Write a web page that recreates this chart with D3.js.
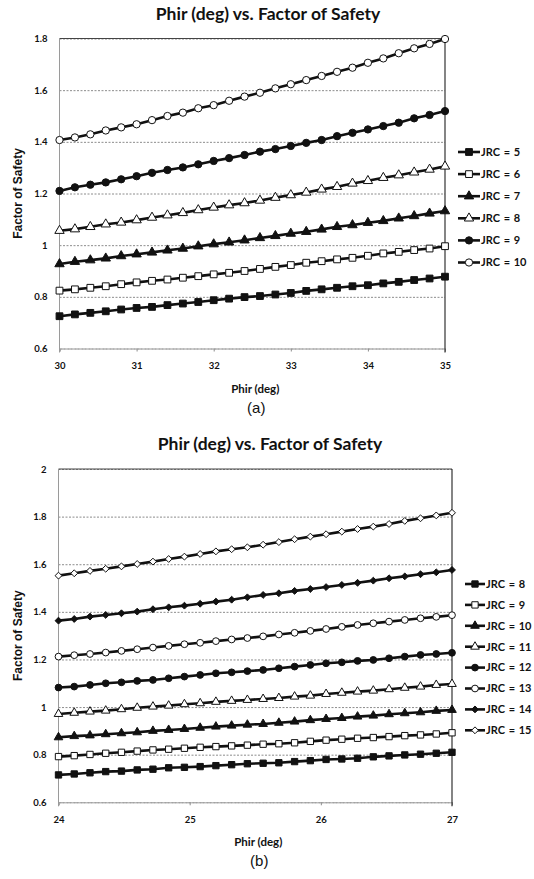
<!DOCTYPE html>
<html>
<head>
<meta charset="utf-8">
<script src="https://cdn.jsdelivr.net/npm/d3@7"></script>
<style>
  body { margin: 0; background: #fff; }
  text { fill: #111; }
  .tick text { font-family: Lato, "Liberation Sans", sans-serif; font-weight: 700; font-size: 9.5px; fill: #111; }
</style>
</head>
<body>
<div id="chart"></div>
<script>
//data
const phirA = [30, 30.2, 30.4, 30.6, 30.8, 31, 31.2, 31.4, 31.6, 31.8, 32, 32.2, 32.4, 32.6, 32.8, 33, 33.2, 33.4, 33.6, 33.8, 34, 34.2, 34.4, 34.6, 34.8, 35];
const phirB = [24, 24.12, 24.24, 24.36, 24.48, 24.6, 24.72, 24.84, 24.96, 25.08, 25.2, 25.32, 25.44, 25.56, 25.68, 25.8, 25.92, 26.04, 26.16, 26.28, 26.4, 26.52, 26.64, 26.76, 26.88, 27];

const xTicksA = [30, 31, 32, 33, 34, 35];
const yTicksA = [0.6, 0.8, 1, 1.2, 1.4, 1.6, 1.8];
const xTicksB = [24, 25, 26, 27];
const yTicksB = [0.6, 0.8, 1, 1.2, 1.4, 1.6, 1.8, 2];

const jrcA = ['JRC = 5', 'JRC = 6', 'JRC = 7', 'JRC = 8', 'JRC = 9', 'JRC = 10'];
const jrcB = ['JRC = 8', 'JRC = 9', 'JRC = 10', 'JRC = 11', 'JRC = 12', 'JRC = 13', 'JRC = 14', 'JRC = 15'];

// panel (a)
const fosA5  = [0.725, 0.732, 0.738, 0.744, 0.751, 0.757, 0.761, 0.768, 0.774, 0.780, 0.787, 0.793, 0.799, 0.803, 0.809, 0.815, 0.823, 0.829, 0.835, 0.841, 0.845, 0.852, 0.858, 0.865, 0.871, 0.878];
const fosA6  = [0.824, 0.829, 0.835, 0.841, 0.849, 0.856, 0.862, 0.867, 0.874, 0.880, 0.887, 0.893, 0.900, 0.908, 0.916, 0.923, 0.932, 0.938, 0.945, 0.951, 0.959, 0.968, 0.974, 0.981, 0.987, 0.996];
const fosA7  = [0.927, 0.936, 0.942, 0.949, 0.958, 0.965, 0.972, 0.980, 0.987, 0.996, 1.004, 1.011, 1.019, 1.028, 1.036, 1.045, 1.052, 1.061, 1.071, 1.078, 1.087, 1.094, 1.104, 1.113, 1.123, 1.132];
const fosA8  = [1.056, 1.062, 1.071, 1.081, 1.088, 1.097, 1.107, 1.116, 1.125, 1.136, 1.146, 1.155, 1.163, 1.173, 1.184, 1.194, 1.204, 1.216, 1.226, 1.239, 1.249, 1.261, 1.271, 1.282, 1.293, 1.305];
const fosA9  = [1.210, 1.224, 1.234, 1.243, 1.255, 1.267, 1.280, 1.291, 1.301, 1.313, 1.326, 1.337, 1.349, 1.362, 1.372, 1.384, 1.396, 1.407, 1.422, 1.435, 1.448, 1.461, 1.474, 1.491, 1.504, 1.519];
const fosA10 = [1.407, 1.417, 1.429, 1.444, 1.456, 1.468, 1.484, 1.500, 1.513, 1.530, 1.542, 1.559, 1.575, 1.590, 1.607, 1.623, 1.639, 1.655, 1.671, 1.687, 1.706, 1.723, 1.743, 1.762, 1.779, 1.798];

// panel (b)
const fosB8  = [0.715, 0.719, 0.724, 0.729, 0.731, 0.736, 0.739, 0.745, 0.747, 0.750, 0.754, 0.758, 0.762, 0.764, 0.766, 0.771, 0.775, 0.780, 0.782, 0.785, 0.791, 0.795, 0.799, 0.802, 0.806, 0.810];
const fosB9  = [0.792, 0.796, 0.801, 0.806, 0.810, 0.815, 0.820, 0.823, 0.827, 0.831, 0.834, 0.837, 0.840, 0.844, 0.846, 0.850, 0.856, 0.861, 0.865, 0.869, 0.872, 0.876, 0.880, 0.883, 0.887, 0.892];
const fosB10 = [0.873, 0.878, 0.881, 0.886, 0.890, 0.894, 0.900, 0.904, 0.908, 0.913, 0.918, 0.922, 0.926, 0.929, 0.934, 0.939, 0.945, 0.950, 0.954, 0.960, 0.964, 0.970, 0.974, 0.978, 0.984, 0.988];
const fosB11 = [0.971, 0.976, 0.981, 0.985, 0.991, 0.997, 1.002, 1.006, 1.012, 1.016, 1.022, 1.026, 1.030, 1.034, 1.038, 1.044, 1.048, 1.055, 1.060, 1.065, 1.069, 1.075, 1.081, 1.086, 1.093, 1.097];
const fosB12 = [1.082, 1.086, 1.093, 1.100, 1.104, 1.110, 1.114, 1.121, 1.128, 1.135, 1.142, 1.146, 1.151, 1.156, 1.163, 1.170, 1.177, 1.184, 1.188, 1.194, 1.198, 1.205, 1.212, 1.219, 1.223, 1.228];
const fosB13 = [1.212, 1.218, 1.223, 1.229, 1.236, 1.243, 1.250, 1.257, 1.264, 1.270, 1.277, 1.284, 1.290, 1.297, 1.305, 1.312, 1.320, 1.328, 1.337, 1.345, 1.352, 1.359, 1.366, 1.373, 1.379, 1.386];
const fosB14 = [1.363, 1.370, 1.380, 1.387, 1.394, 1.401, 1.411, 1.419, 1.426, 1.434, 1.443, 1.451, 1.461, 1.471, 1.478, 1.488, 1.496, 1.504, 1.513, 1.522, 1.531, 1.541, 1.549, 1.558, 1.566, 1.576];
const fosB15 = [1.552, 1.562, 1.572, 1.581, 1.591, 1.601, 1.611, 1.622, 1.632, 1.643, 1.654, 1.663, 1.671, 1.682, 1.693, 1.705, 1.716, 1.726, 1.737, 1.748, 1.758, 1.769, 1.782, 1.793, 1.805, 1.816];

//marker style for each series (shape + filled or open)
const sq = d3.symbolSquare, tri = d3.symbolTriangle, circ = d3.symbolCircle;
const dia = d3.symbolDiamond2 || d3.symbolDiamond; // rotated square, closer to excel's diamond
const seriesA = [
  { name: jrcA[0], values: fosA5,  shape: sq,   filled: true },
  { name: jrcA[1], values: fosA6,  shape: sq,   filled: false },
  { name: jrcA[2], values: fosA7,  shape: tri,  filled: true },
  { name: jrcA[3], values: fosA8,  shape: tri,  filled: false },
  { name: jrcA[4], values: fosA9,  shape: circ, filled: true },
  { name: jrcA[5], values: fosA10, shape: circ, filled: false }
];
const seriesB = [
  { name: jrcB[0], values: fosB8,  shape: sq,   filled: true },
  { name: jrcB[1], values: fosB9,  shape: sq,   filled: false },
  { name: jrcB[2], values: fosB10, shape: tri,  filled: true },
  { name: jrcB[3], values: fosB11, shape: tri,  filled: false },
  { name: jrcB[4], values: fosB12, shape: circ, filled: true },
  { name: jrcB[5], values: fosB13, shape: circ, filled: false },
  { name: jrcB[6], values: fosB14, shape: dia,  filled: true },
  { name: jrcB[7], values: fosB15, shape: dia,  filled: false }
];

const svg = d3.select('#chart')
  .append('svg')
  .attr('width', 534)
  .attr('height', 879);

// symbol areas so the marks look about the same size as the scan
const symSize = { a: { sq: 46, tri: 38, circ: 42, dia: 34 }, b: { sq: 40, tri: 32, circ: 36, dia: 30 } };
function sizeOf(shape, key) {
  if (shape === sq) return symSize[key].sq;
  if (shape === tri) return symSize[key].tri;
  if (shape === circ) return symSize[key].circ;
  return symSize[key].dia;
}

function drawPanel(p) {
  let x = d3.scaleLinear().domain(p.xDomain).range([p.left, p.right]);
  let y = d3.scaleLinear().domain(p.yDomain).range([p.bottom, p.top]);
  let g = svg.append('g');

  //horizontal gridlines (dotted grey like excel print)
  g.append('g')
    .attr('transform', `translate(${p.left},0)`)
    .call(d3.axisLeft(y).tickValues(p.yTicks).tickSize(-(p.right - p.left)).tickFormat(''))
    .call(s => s.select('.domain').remove())
    .call(s => s.selectAll('line').attr('stroke', '#8c8c8c').attr('stroke-width', 1).attr('stroke-dasharray', '2,1.5'));

  //y labels
  g.append('g')
    .attr('transform', `translate(${p.left},0)`)
    .call(d3.axisLeft(y).tickValues(p.yTicks).tickSize(0).tickPadding(12).tickFormat(d => String(d)))
    .call(s => s.select('.domain').remove());

  //x axis
  g.append('g')
    .attr('transform', `translate(0,${p.bottom})`)
    .call(d3.axisBottom(x).tickValues(p.xTicks).tickSize(3).tickPadding(11).tickFormat(d => String(d)))
    .call(s => s.select('.domain').attr('stroke', '#8c8c8c').attr('stroke-dasharray', '2,1.5'))
    .call(s => s.selectAll('.tick line').attr('stroke', '#8c8c8c'));

  //frame: top and right darker, left light
  g.append('line').attr('x1', p.left).attr('x2', p.right).attr('y1', p.top).attr('y2', p.top)
    .attr('stroke', '#444').attr('stroke-width', 1.2);
  g.append('line').attr('x1', p.right).attr('x2', p.right).attr('y1', p.top).attr('y2', p.bottom + 4)
    .attr('stroke', '#333').attr('stroke-width', 1.2);
  g.append('line').attr('x1', p.left).attr('x2', p.left).attr('y1', p.top).attr('y2', p.bottom + 4)
    .attr('stroke', '#9a9a9a').attr('stroke-width', 1);

  let line = d3.line().x((d, i) => x(p.xs[i])).y(d => y(d));

  p.series.forEach(s => {
    g.append('path')
      .attr('d', line(s.values))
      .attr('fill', 'none')
      .attr('stroke', '#111')
      .attr('stroke-width', 2.6);
    g.selectAll(null)
      .data(s.values)
      .enter()
      .append('path')
      .attr('d', d3.symbol().type(s.shape).size(sizeOf(s.shape, p.key)))
      .attr('transform', (d, i) => `translate(${x(p.xs[i])},${y(d)})`)
      .attr('fill', s.filled ? '#111' : '#fff')
      .attr('stroke', '#111')
      .attr('stroke-width', 1);
  });

  //legend
  let leg = g.append('g');
  p.series.forEach((s, i) => {
    let ly = p.legY + i * p.legStep;
    leg.append('line').attr('x1', p.legX).attr('x2', p.legX + p.legLen).attr('y1', ly).attr('y2', ly)
      .attr('stroke', '#111').attr('stroke-width', 2.6);
    leg.append('path')
      .attr('d', d3.symbol().type(s.shape).size(sizeOf(s.shape, p.key)))
      .attr('transform', `translate(${p.legX + p.legLen / 2},${ly})`)
      .attr('fill', s.filled ? '#111' : '#fff')
      .attr('stroke', '#111');
    leg.append('text')
      .attr('x', p.legX + p.legLen + 1)
      .attr('y', ly)
      .attr('dy', '0.35em')
      .style('font-family', 'Lato, "Liberation Sans", sans-serif')
      .style('font-weight', 700)
      .style('font-size', '11px')
      .style('word-spacing', '1px')
      .text(s.name);
  });

  //titles
  g.append('text')
    .attr('x', p.titleX).attr('y', p.titleY)
    .attr('text-anchor', 'middle')
    .style('font-family', 'Lato, "Liberation Sans", sans-serif')
    .style('font-weight', 700)
    .style('font-size', '17.5px')
    .text('Phir (deg) vs. Factor of Safety');

  g.append('text')
    .attr('x', (p.left + p.right) / 2 + 3).attr('y', p.bottom + 44)
    .attr('text-anchor', 'middle')
    .style('font-family', 'Lato, "Liberation Sans", sans-serif')
    .style('font-weight', 700)
    .style('font-size', '11.5px')
    .text('Phir (deg)');

  g.append('text')
    .attr('transform', `translate(22,${(p.top + p.bottom) / 2}) rotate(-90)`)
    .attr('text-anchor', 'middle')
    .style('font-family', '"Liberation Sans", Arial, sans-serif')
    .style('font-weight', 700)
    .style('font-size', '12px')
    .text('Factor of Safety');

  g.append('text')
    .attr('x', (p.left + p.right) / 2 + 4).attr('y', p.bottom + 64)
    .attr('text-anchor', 'middle')
    .style('font-family', '"Liberation Sans", Arial, sans-serif')
    .style('font-size', '15px')
    .text(p.caption);
}

drawPanel({
  key: 'a', xs: phirA, series: seriesA,
  xDomain: [30, 35], yDomain: [0.6, 1.8], xTicks: xTicksA, yTicks: yTicksA,
  left: 59.5, right: 445, top: 38.5, bottom: 348.5,
  legX: 458, legLen: 22, legY: 152, legStep: 22.1,
  titleX: 268, titleY: 20, caption: '(a)'
});

drawPanel({
  key: 'b', xs: phirB, series: seriesB,
  xDomain: [24, 27], yDomain: [0.6, 2], xTicks: xTicksB, yTicks: yTicksB,
  left: 58.5, right: 452, top: 469, bottom: 802.3,
  legX: 465, legLen: 20, legY: 584, legStep: 20.9,
  titleX: 270, titleY: 450, caption: '(b)'
});
</script>
</body>
</html>
